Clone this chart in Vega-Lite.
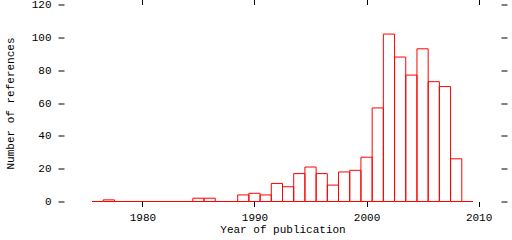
{
  "$schema": "https://vega.github.io/schema/vega-lite/v6.json",
  "autosize": "none",
  "width": 437,
  "height": 197,
  "padding": {"left": 64, "top": 4.5, "right": 11, "bottom": 38.5},
  "background": "white",
  "config": {
    "view": {"stroke": null},
    "axis": {
      "labelFont": "Liberation Mono",
      "titleFont": "Liberation Mono",
      "labelFontSize": 11,
      "titleFontSize": 11,
      "titleFontWeight": "normal",
      "labelColor": "black",
      "titleColor": "black",
      "tickColor": "black",
      "tickWidth": 1,
      "domain": false,
      "grid": false
    }
  },
  "data": {
    "values": [
      {"year": 1976, "count": 0},
      {"year": 1977, "count": 1},
      {"year": 1978, "count": 0},
      {"year": 1979, "count": 0},
      {"year": 1980, "count": 0},
      {"year": 1981, "count": 0},
      {"year": 1982, "count": 0},
      {"year": 1983, "count": 0},
      {"year": 1984, "count": 0},
      {"year": 1985, "count": 2},
      {"year": 1986, "count": 2},
      {"year": 1987, "count": 0},
      {"year": 1988, "count": 0},
      {"year": 1989, "count": 4},
      {"year": 1990, "count": 5},
      {"year": 1991, "count": 4},
      {"year": 1992, "count": 11},
      {"year": 1993, "count": 9},
      {"year": 1994, "count": 17},
      {"year": 1995, "count": 21},
      {"year": 1996, "count": 17},
      {"year": 1997, "count": 10},
      {"year": 1998, "count": 18},
      {"year": 1999, "count": 19},
      {"year": 2000, "count": 27},
      {"year": 2001, "count": 57},
      {"year": 2002, "count": 102},
      {"year": 2003, "count": 88},
      {"year": 2004, "count": 77},
      {"year": 2005, "count": 93},
      {"year": 2006, "count": 73},
      {"year": 2007, "count": 70},
      {"year": 2008, "count": 26},
      {"year": 2009, "count": 0}
    ]
  },
  "transform": [
    {"calculate": "datum.year - 0.5", "as": "x0"},
    {"calculate": "datum.year + 0.5", "as": "x1"}
  ],
  "layer": [
    {
      "mark": {"type": "rect", "fill": null, "fillOpacity": 0, "stroke": "#ff0000", "strokeWidth": 1},
      "encoding": {
        "x": {
          "field": "x0",
          "type": "quantitative",
          "scale": {"domain": [1973, 2012], "nice": false, "zero": false},
          "axis": {
            "orient": "bottom",
            "values": [1980, 1990, 2000, 2010],
            "format": "d",
            "tickSize": 5,
            "labelPadding": 5,
            "title": "Year of publication",
            "titlePadding": 1
          }
        },
        "x2": {"field": "x1"},
        "y": {
          "field": "count",
          "type": "quantitative",
          "scale": {"domain": [0, 120], "nice": false},
          "axis": {
            "orient": "left",
            "values": [0, 20, 40, 60, 80, 100, 120],
            "tickSize": 6,
            "labelPadding": 7,
            "title": "Number of references",
            "titlePadding": 16
          }
        },
        "y2": {"datum": 0}
      }
    },
    {
      "mark": {"type": "rule", "opacity": 0},
      "encoding": {
        "x": {
          "field": "x0",
          "type": "quantitative",
          "scale": {"domain": [1973, 2012], "nice": false, "zero": false},
          "axis": {
            "orient": "top",
            "values": [1980, 1990, 2000, 2010],
            "tickSize": 5,
            "labels": false,
            "title": null
          }
        },
        "y": {
          "field": "count",
          "type": "quantitative",
          "scale": {"domain": [0, 120], "nice": false},
          "axis": {
            "orient": "right",
            "values": [0, 20, 40, 60, 80, 100, 120],
            "tickSize": 6,
            "labels": false,
            "title": null
          }
        }
      }
    }
  ],
  "resolve": {"axis": {"x": "independent", "y": "independent"}}
}
